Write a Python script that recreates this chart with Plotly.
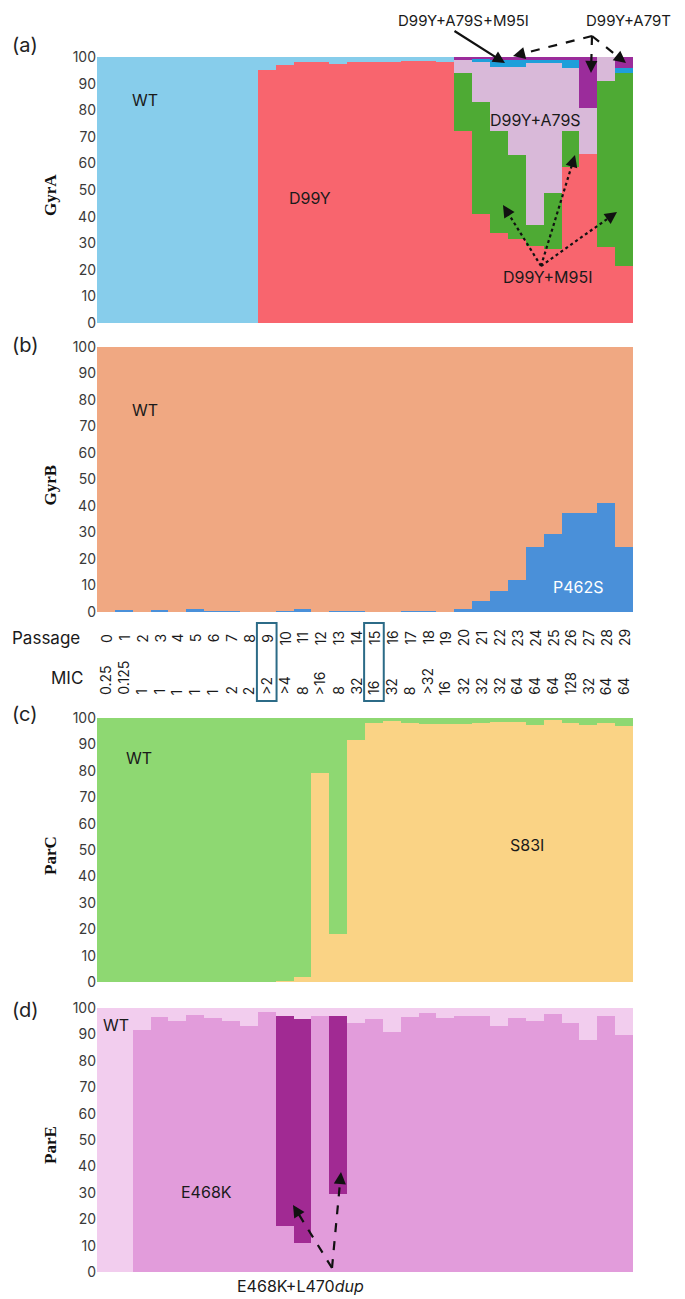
import plotly.graph_objects as go

W, H = 685, 1299

passages = [str(i) for i in range(30)]
mic = ["0.25", "0.125", "1", "1", "1", "1", "1", "2", "2", ">2", ">4", "8", ">16", "8", "32",
       "16", "32", "8", ">32", "16", "32", "32", "32", "64", "64", "64", "128", "32", "64", "64"]

# (a) GyrA
gyrA_D99Y = [0, 0, 0, 0, 0, 0, 0, 0, 0, 95, 97, 98, 98, 97.5, 98, 98, 98, 98.5, 98.5, 98,
             72, 41, 34, 31.5, 29, 28, 58.5, 63.5, 28.5, 21.5]
gyrA_D99Y_M95I = [0] * 20 + [22, 42, 38, 31.5, 8, 21, 13.5, 0, 62.5, 72.5]
gyrA_D99Y_A79S = [0] * 20 + [5, 15, 24.4, 33.4, 60.9, 48.9, 23.8, 17.5, 9, 0]
gyrA_D99Y_A79S_M95I = [0] * 20 + [0, 1.1, 2.6, 2.6, 1.1, 1.1, 3.2, 0, 0, 2]
gyrA_D99Y_A79T = [0] * 20 + [1, 1, 1, 1, 1, 1, 1, 19, 0, 4]
gyrA_WT = [100] * 9 + [5, 3, 2, 2, 2.5, 2, 2, 2, 1.5, 1.5, 2] + [0] * 10

# (b) GyrB
gyrB_P462S = [0, 0.6, 0, 0.6, 0, 1.2, 0.5, 0.5, 0, 0, 0.5, 1.0, 0, 0.4, 0.3, 0, 0, 0.4, 0.4, 0,
              1.2, 4.3, 7.8, 12.1, 24.4, 29.4, 37.2, 37.5, 41, 24.4]
gyrB_WT = [100, 99.4, 100, 99.4, 100, 98.8, 99.5, 99.5, 100, 100, 99.5, 99.0, 100, 99.6, 99.7,
           100, 100, 99.6, 99.6, 100, 98.8, 95.7, 92.2, 87.9, 75.6, 70.6, 62.8, 62.5, 59, 75.6]

# (c) ParC
parC_S83I = [0] * 10 + [0.4, 2, 79.2, 18, 91.8, 98, 98.9, 98, 97.6, 97.6, 97.6, 98, 98.5, 98.5,
                        97.2, 99.2, 98, 97.5, 98, 96.9]
parC_WT = [100] * 10 + [99.6, 98, 20.8, 82, 8.2, 2, 1.1, 2, 2.4, 2.4, 2.4, 2, 1.5, 1.5,
                        2.8, 0.8, 2, 2.5, 2, 3.1]

# (d) ParE
parE_E468K = [0, 0, 91.75, 96.5, 95.1, 97.4, 96.1, 95.25, 93.25, 98.4, 17.5, 11, 97, 29.5, 94.25,
              95.75, 90.75, 96.5, 98.25, 96.1, 97, 97, 93.25, 96.1, 94.9, 97.6, 94.25, 87.75, 97.1, 89.6]
parE_E468K_L470dup = [0] * 10 + [79.5, 84.9, 0, 67.6] + [0] * 16
parE_WT = [100, 100, 8.25, 3.5, 4.9, 2.6, 3.9, 4.75, 6.75, 1.6, 3, 4.1, 3, 2.9, 5.75, 4.25, 9.25,
           3.5, 1.75, 3.9, 3, 3, 6.75, 3.9, 5.1, 2.4, 5.75, 12.25, 2.9, 10.4]

FONT = "Inter"


def px(x):
    return x / W


def py(y):
    return 1 - y / H


fig = go.Figure()
xs = list(range(30))

panels = [
    (1, [(gyrA_D99Y, "D99Y", "#F8656E"), (gyrA_D99Y_M95I, "D99Y+M95I", "#4EAA34"),
         (gyrA_D99Y_A79S, "D99Y+A79S", "#D9B9D9"), (gyrA_D99Y_A79S_M95I, "D99Y+A79S+M95I", "#1E9FDA"),
         (gyrA_D99Y_A79T, "D99Y+A79T", "#9B2C9B"), (gyrA_WT, "WT", "#87CDEB")]),
    (2, [(gyrB_P462S, "P462S", "#4A90D9"), (gyrB_WT, "WT", "#F0A882")]),
    (3, [(parC_S83I, "S83I", "#FAD385"), (parC_WT, "WT", "#8ED872")]),
    (4, [(parE_E468K, "E468K", "#E29CDB"), (parE_E468K_L470dup, "E468K+L470dup", "#A12A93"),
         (parE_WT, "WT", "#F2CDEE")]),
]

for idx, series in panels:
    sfx = "" if idx == 1 else str(idx)
    for vals, name, col in series:
        fig.add_trace(go.Bar(x=xs, y=vals, name=name, marker=dict(color=col, line=dict(width=0)),
                             xaxis="x" + sfx, yaxis="y" + sfx, showlegend=False, hoverinfo="skip"))

domains_px = {1: (57, 323), 2: (347, 612), 3: (718, 982), 4: (1008, 1272)}
xdom = [px(97), px(633)]
layout = dict(width=W, height=H, margin=dict(l=0, r=0, t=0, b=0, autoexpand=False),
              barmode="stack", bargap=0,
              paper_bgcolor="white", plot_bgcolor="white", showlegend=False)
for i in range(1, 5):
    sfx = "" if i == 1 else str(i)
    top, bot = domains_px[i]
    layout["xaxis" + sfx] = dict(domain=xdom, range=[-0.5, 29.5], visible=False, anchor="y" + sfx,
                                 fixedrange=True, automargin=False)
    layout["yaxis" + sfx] = dict(domain=[py(bot), py(top)], range=[0, 100], tick0=0, dtick=10,
                                 showgrid=False, zeroline=False, showline=False, ticks="",
                                 tickfont=dict(family=FONT, size=14, color="#3a3a3a"),
                                 anchor="x" + sfx, fixedrange=True, automargin=False)
fig.update_layout(**layout)

ann = []
shapes = []


def text(x, y, s, size=16, color="#1a1a1a", family=FONT, angle=0, xanchor="center", yanchor="middle"):
    ann.append(dict(x=px(x), y=py(y), xref="paper", yref="paper", text=s, showarrow=False,
                    font=dict(family=family, size=size, color=color), textangle=angle,
                    xanchor=xanchor, yanchor=yanchor))


def arrow(x0, y0, x1, y1, dash=None, width=2.2):
    L = ((x1 - x0) ** 2 + (y1 - y0) ** 2) ** 0.5
    ux, uy = (x0 - x1) / L, (y0 - y1) / L
    if dash is None:
        ann.append(dict(x=px(x1), y=py(y1), xref="paper", yref="paper", ax=x0 - x1, ay=y0 - y1,
                        axref="pixel", ayref="pixel", text="", showarrow=True, arrowhead=2,
                        arrowsize=1.1, arrowwidth=width, arrowcolor="#111"))
        return
    ex, ey = x1 + ux * 8, y1 + uy * 8
    shapes.append(dict(type="line", xref="paper", yref="paper", x0=px(x0), y0=py(y0), x1=px(ex),
                       y1=py(ey), line=dict(color="#111", width=width, dash=dash)))
    ann.append(dict(x=px(x1), y=py(y1), xref="paper", yref="paper", ax=ux * 9, ay=uy * 9,
                    axref="pixel", ayref="pixel", text="", showarrow=True, arrowhead=2,
                    arrowsize=1.1, arrowwidth=width, arrowcolor="#111"))


# panel letters
for lab, y in [("(a)", 45), ("(b)", 345), ("(c)", 714), ("(d)", 1010)]:
    text(10, y, lab, size=20, color="#222", xanchor="left")

# axis titles
for lab, (top, bot) in zip(["GyrA", "GyrB", "ParC", "ParE"], domains_px.values()):
    text(50, (top + bot) / 2 + 5, "<b>%s</b>" % lab, size=17, color="#111",
         family="Liberation Serif", angle=-90)

# panel a labels
text(145, 100, "WT")
text(310, 198, "D99Y")
text(535, 120, "D99Y+A79S")
text(547, 277, "D99Y+M95I")
text(463, 21, "D99Y+A79S+M95I", size=15)
text(628, 21, "D99Y+A79T", size=15)
arrow(453, 30, 505, 63)
arrow(592, 36, 513, 56, dash="dash")
arrow(592, 36, 591, 73, dash="dash")
arrow(592, 36, 626, 63, dash="dash")
arrow(541, 266, 503, 205, dash="dot")
arrow(541, 266, 575, 155, dash="dot")
arrow(541, 266, 617, 212, dash="dot")

# panel b labels
text(145, 410, "WT")
text(578, 587, "P462S", color="white")

# passage / MIC rows
text(10, 638, "Passage", size=17, xanchor="left")
text(85, 678, "MIC", size=17, xanchor="right")
for i in range(30):
    ann.append(dict(x=i, y=py(638), xref="x2", yref="paper", text=passages[i], showarrow=False,
                    textangle=-90, font=dict(family=FONT, size=14, color="#1a1a1a"),
                    xanchor="center", yanchor="middle"))
    ann.append(dict(x=i, y=py(697), xref="x2", yref="paper", text=mic[i], showarrow=False,
                    textangle=-90, font=dict(family=FONT, size=14, color="#1a1a1a"),
                    xanchor="center", yanchor="bottom"))
for c in (9, 15):
    shapes.append(dict(type="rect", xref="x2", yref="paper", x0=c - 0.55, x1=c + 0.55,
                       y0=py(701), y1=py(623), line=dict(color="#2C6B87", width=2)))

# panel c labels
text(139, 758, "WT")
text(527, 845, "S83I")

# panel d labels
text(116, 1025, "WT")
text(206, 1192, "E468K")
text(300, 1286, "E468K+L470<i>dup</i>")
arrow(332, 1268, 293, 1205, dash="dash")
arrow(332, 1268, 341, 1172, dash="dash")

fig.update_layout(annotations=ann, shapes=shapes)
fig.write_html("out.html", config={"displayModeBar": False, "staticPlot": True},
               post_script="document.body.style.margin='0';document.body.style.padding='0';"
                           "document.body.style.overflow='hidden';")
